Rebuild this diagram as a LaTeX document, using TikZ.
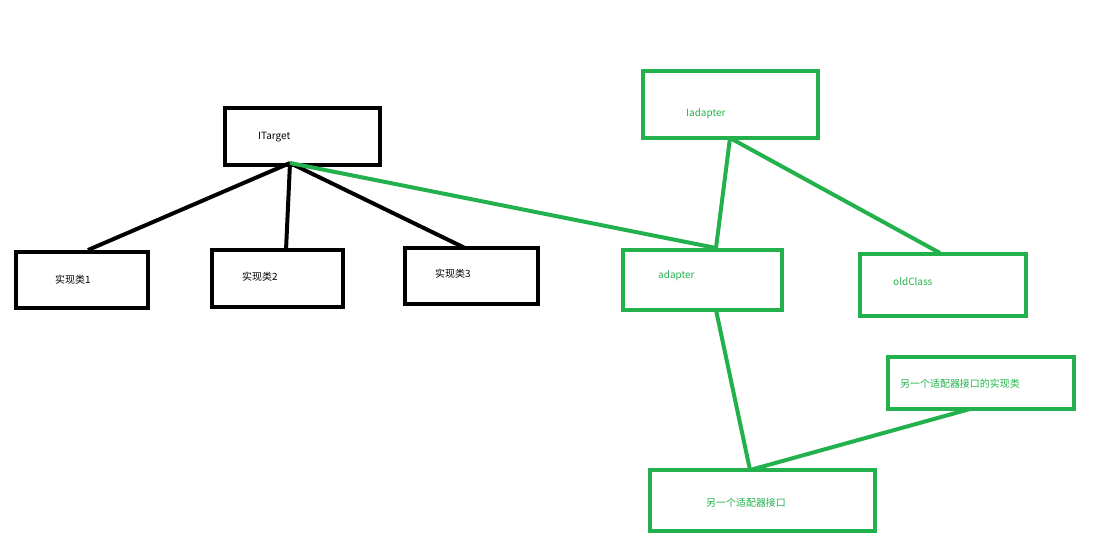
\documentclass[tikz,border=0pt]{standalone}
\usepackage{fontspec}
\newfontfamily\cjk{Noto Sans CJK SC}
\setmonofont{Liberation Mono}
\definecolor{umlgreen}{RGB}{34,177,76}
\tikzset{
  box/.style={draw, line width=3.4pt, inner sep=0pt},
  lbl/.style={font=\cjk\fontsize{8.5}{10}\selectfont, anchor=west, inner sep=0pt},
  link/.style={line width=3.4pt}
}
\begin{document}
\begin{tikzpicture}[x=0.03cm,y=-0.03cm]
\useasboundingbox (0,0) rectangle (1100,554);
% boxes on the left
\node[box, minimum width=155*0.03cm, minimum height=57*0.03cm] (itarget) at (302.5,136.5) {};
\node[box, minimum width=132*0.03cm, minimum height=56*0.03cm] (impl1) at (82,280) {};
\node[box, minimum width=131*0.03cm, minimum height=57*0.03cm] (impl2) at (277.5,278.5) {};
\node[box, minimum width=133*0.03cm, minimum height=56*0.03cm] (impl3) at (471.5,276) {};
\node[lbl] at (258,137) {ITarget};
\node[lbl] at (55,280) {实现类1};
\node[lbl] at (242,277) {实现类2};
\node[lbl] at (435,274) {实现类3};
% boxes on the right
\begin{scope}[umlgreen]
\node[box, minimum width=175*0.03cm, minimum height=67*0.03cm] (iadapter) at (730.5,104.5) {};
\node[box, minimum width=159*0.03cm, minimum height=60*0.03cm] (adapter) at (702.5,280) {};
\node[box, minimum width=166*0.03cm, minimum height=62*0.03cm] (oldclass) at (943,285) {};
\node[box, minimum width=186*0.03cm, minimum height=52*0.03cm] (otherimpl) at (981,383) {};
\node[box, minimum width=225*0.03cm, minimum height=61*0.03cm] (otheriface) at (762.5,500.5) {};
\node[lbl] at (686,114) {Iadapter};
\node[lbl] at (658,276) {adapter};
\node[lbl] at (893,282) {oldClass};
\node[lbl] at (900,384) {另一个适配器接口的实现类};
\node[lbl] at (706,503) {另一个适配器接口};
\end{scope}
% connectors
\coordinate (t) at (290,163);
\coordinate (a1) at (88,250);
\coordinate (a2) at (286,250);
\coordinate (a3) at (465,248);
\coordinate (ad) at (716,248);
\coordinate (ia) at (730,138);
\coordinate (oc) at (940,253);
\coordinate (adb) at (716,310);
\coordinate (oi) at (750,470);
\coordinate (oib) at (970,409);
\draw[link] (t) -- (a1);
\draw[link] (t) -- (a2);
\draw[link] (t) -- (a3);
\draw[link, umlgreen] (t) -- (ad);
\draw[link, umlgreen] (ia) -- (ad);
\draw[link, umlgreen] (ia) -- (oc);
\draw[link, umlgreen] (adb) -- (oi);
\draw[link, umlgreen] (oib) -- (oi);
\end{tikzpicture}
\end{document}
